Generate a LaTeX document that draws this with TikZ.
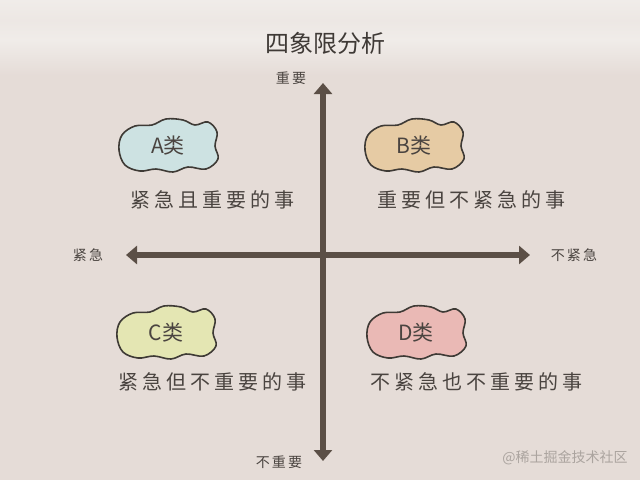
\documentclass[tikz,border=0pt]{standalone}
\usepackage{fontspec}
\usetikzlibrary{arrows.meta}
\newfontfamily\cjk{Noto Sans CJK SC}
\newfontfamily\cjkspaced[LetterSpace=20]{Noto Sans CJK SC}
\newfontfamily\cjksmall[LetterSpace=15]{Noto Sans CJK SC}
\definecolor{bgc}{HTML}{E5DCD7}
\definecolor{bandc}{HTML}{F0ECE9}
\definecolor{axisc}{HTML}{5B4F46}
\definecolor{inkc}{HTML}{4A4440}
\definecolor{edgec}{HTML}{3E3A35}
\definecolor{fillA}{HTML}{CDE2E2}
\definecolor{fillB}{HTML}{E6CBA4}
\definecolor{fillC}{HTML}{E4E6B3}
\definecolor{fillD}{HTML}{EAB9B5}
\definecolor{markc}{HTML}{ABA49F}
\tikzset{
  axisline/.style={draw=axisc, line width=6pt,
    {Triangle[width=18pt,length=11pt]}-{Triangle[width=18pt,length=11pt]}},
  blobline/.style={draw=edgec, line width=1.6pt, line join=round},
  blobtext/.style={font=\cjk\fontsize{21}{21}\selectfont, text=inkc, inner sep=0pt,
    minimum width=96pt, minimum height=48pt},
  desc/.style={font=\cjkspaced\fontsize{20}{20}\selectfont, text=inkc, inner sep=0pt},
  axlabel/.style={font=\cjksmall\fontsize{14}{14}\selectfont, text=inkc, inner sep=0pt},
}
\newcommand{\blobpath}[2]{%
  \draw[blobline, fill=#2, shift={(#1)}] plot[smooth cycle, tension=0.6] coordinates {
    (-49,4) (-46,-11) (-33,-20) (-16,-21) (-2,-27) (15,-26) (27,-21) (40,-24)
    (49,-14) (47,0) (50,13) (38,23) (20,21) (5,26) (-12,23) (-28,25) (-43,19)};}
\begin{document}
\begin{tikzpicture}[x=1pt,y=-1pt]
\useasboundingbox (0,0) rectangle (640,480);
\fill[bgc] (0,0) rectangle (640,480);
\shade[top color=bandc, bottom color=bandc, middle color=bandc!70!bgc] (0,0) rectangle (640,40);
\shade[top color=bandc, bottom color=bgc] (0,40) rectangle (640,75);

\node[font=\cjk\fontsize{24}{24}\selectfont, text=inkc!85!black, inner sep=0pt] (title) at (325,43) {四象限分析};

\coordinate (top) at (323,83);
\coordinate (bottom) at (323,461);
\coordinate (left) at (126,255);
\coordinate (right) at (530,255);
\draw[axisline] (bottom) -- (top);
\draw[axisline] (left) -- (right);

\node[axlabel] (imp) at (291,78) {重要};
\node[axlabel] (unimp) at (279,462) {不重要};
\node[axlabel] (urg) at (88,255) {紧急};
\node[axlabel] (nurg) at (574,255) {不紧急};

\blobpath{168,146}{fillA}
\blobpath{414,146}{fillB}
\blobpath{166,333}{fillC}
\blobpath{416,333}{fillD}
\node[blobtext] (A) at (168,146) {A类};
\node[blobtext] (B) at (414,146) {B类};
\node[blobtext] (C) at (166,333) {C类};
\node[blobtext] (D) at (416,333) {D类};

\node[desc] (tA) at (212,200) {紧急且重要的事};
\node[desc] (tB) at (471,200) {重要但不紧急的事};
\node[desc] (tC) at (212,382) {紧急但不重要的事};
\node[desc] (tD) at (476,382) {不紧急也不重要的事};

\node[font=\cjk\fontsize{14}{14}\selectfont, text=markc, inner sep=0pt] (mark) at (565,458) {@稀土掘金技术社区};
\end{tikzpicture}
\end{document}
